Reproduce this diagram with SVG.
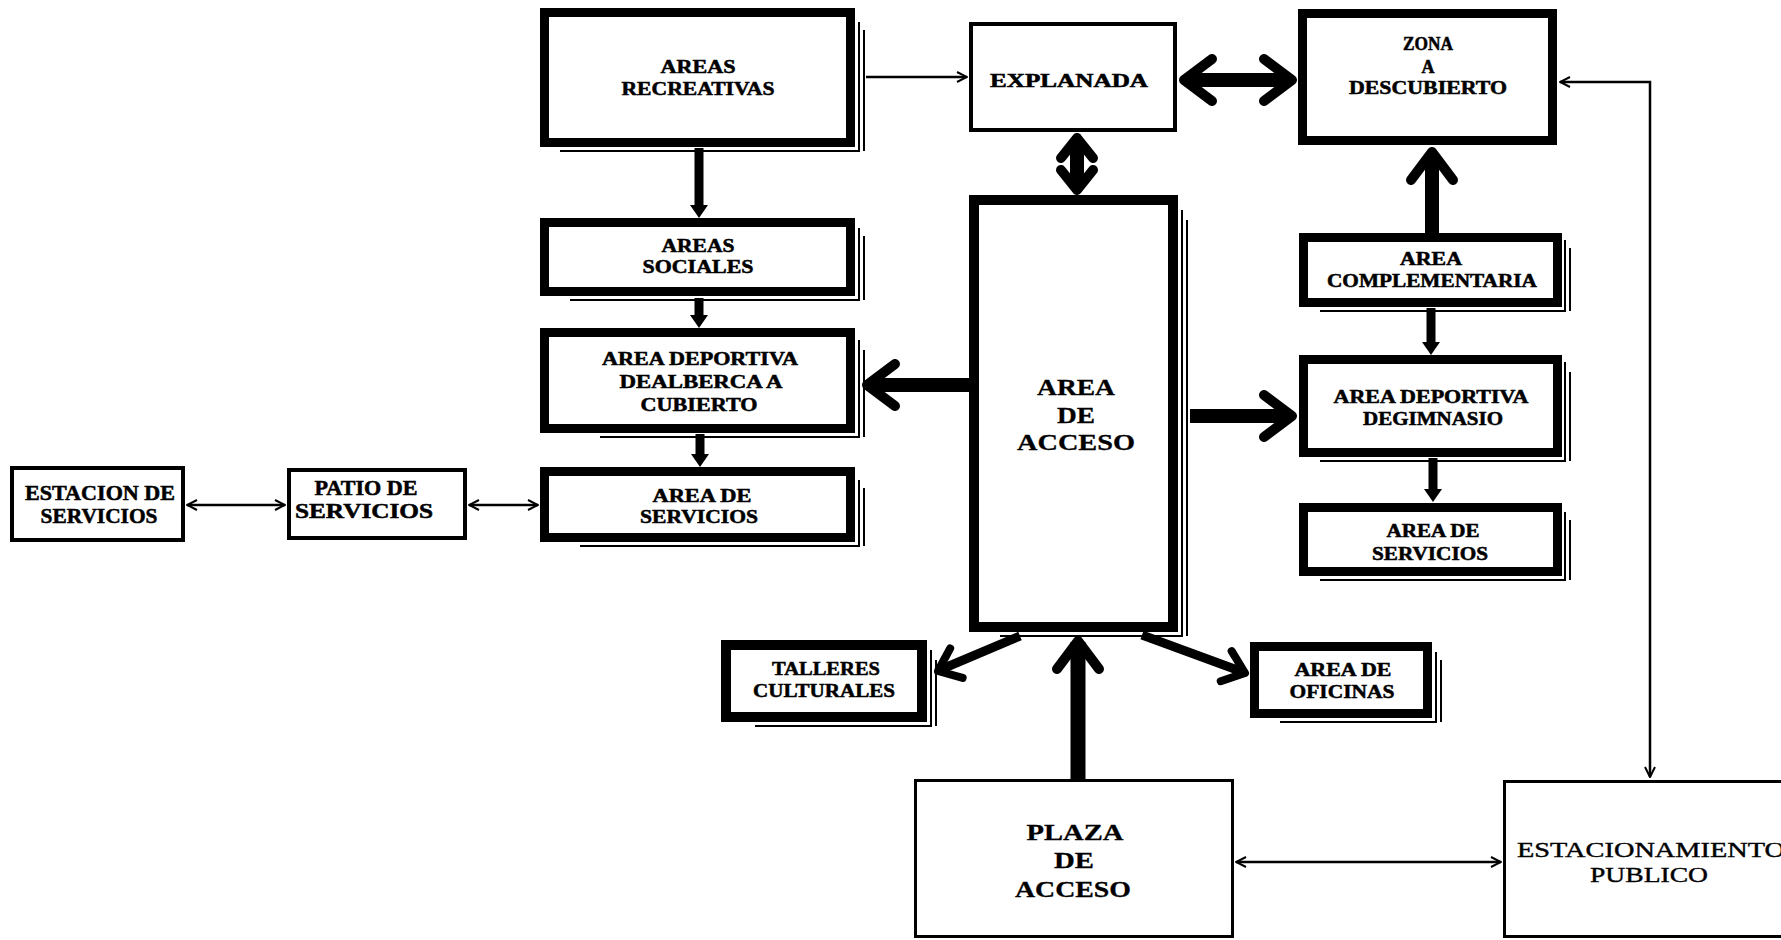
<svg xmlns="http://www.w3.org/2000/svg" width="1781" height="940" viewBox="0 0 1781 940">
  <style>
    .bk{fill:#fff;stroke:#000;stroke-width:9}
    .bn{fill:#fff;stroke:#000;stroke-width:4}
    .bh{fill:#fff;stroke:#000;stroke-width:3}
    .sh{fill:none;stroke:#000;stroke-width:2}
    .t{font-family:"Liberation Serif","Times New Roman",serif;font-weight:bold;font-size:18px;text-anchor:middle;fill:#000;stroke:#000;stroke-width:0.5}
    .tl{font-size:24px;stroke-width:0.3}
    .tr{font-weight:normal;font-size:22px;text-anchor:start;stroke-width:0.4}
    .thin{fill:none;stroke:#000;stroke-width:2.5}
    .med{fill:none;stroke:#000;stroke-width:9}
    .fat{fill:none;stroke:#000;stroke-width:14}
    .chev{fill:none;stroke:#000;stroke-width:10;stroke-linecap:round;stroke-linejoin:round}
    .tri{fill:#000}
  </style>
  <defs>
    <marker id="open" viewBox="0 0 12 12" refX="11" refY="6" markerWidth="12" markerHeight="12" orient="auto-start-reverse" markerUnits="userSpaceOnUse">
      <path d="M1,1 L11,6 L1,11" fill="none" stroke="#000" stroke-width="2"/>
    </marker>
    <path id="chev" d="M-28,-21 L0,0 L-28,21"/>
    <path id="chevS" d="M-20,-16 L0,0 L-20,16"/>
    <path id="tri" d="M0,0 L-13,-9 L-13,9 Z"/>
  </defs>

  <rect width="1781" height="940" fill="#fff"/>

  <!-- connectors -->
  <g id="connectors">
    <!-- thin lines with open heads -->
    <path class="thin" d="M866,77 H967" marker-end="url(#open)"/>
    <path class="thin" d="M187,505 H285" marker-start="url(#open)" marker-end="url(#open)"/>
    <path class="thin" d="M469,505 H538" marker-start="url(#open)" marker-end="url(#open)"/>
    <path class="thin" d="M1560,82 H1650 V777" marker-start="url(#open)" marker-end="url(#open)"/>
    <path class="thin" d="M1236,862 H1501" marker-start="url(#open)" marker-end="url(#open)"/>

    <!-- medium arrows, solid heads -->
    <path class="med" d="M699,148 V207"/>
    <use href="#tri" class="tri" transform="translate(699,218) rotate(90)"/>
    <path class="med" d="M699,298 V318"/>
    <use href="#tri" class="tri" transform="translate(699,328) rotate(90)"/>
    <path class="med" d="M700,434 V457"/>
    <use href="#tri" class="tri" transform="translate(700,467) rotate(90)"/>
    <path class="med" d="M1431,308 V345"/>
    <use href="#tri" class="tri" transform="translate(1431,355) rotate(90)"/>
    <path class="med" d="M1433,458 V492"/>
    <use href="#tri" class="tri" transform="translate(1433,502) rotate(90)"/>

    <!-- heavy arrows, chevron heads -->
    <path class="fat" d="M1188,80 H1288"/>
    <use href="#chev" class="chev" transform="translate(1184,80) rotate(180)"/>
    <use href="#chev" class="chev" transform="translate(1292,80)"/>

    <path class="fat" d="M1077,141 V187"/>
    <use href="#chevS" class="chev" transform="translate(1077,138) rotate(-90)"/>
    <use href="#chevS" class="chev" transform="translate(1077,190) rotate(90)"/>

    <path class="fat" d="M969,385 H872"/>
    <use href="#chev" class="chev" transform="translate(867,385) rotate(180)"/>

    <path class="fat" d="M1190,416 H1288"/>
    <use href="#chev" class="chev" transform="translate(1292,416)"/>

    <path class="fat" d="M1432,233 V158"/>
    <use href="#chev" class="chev" transform="translate(1432,152) rotate(-90)"/>

    <path class="fat" d="M1078,642 V779" style="stroke-width:15"/>
    <use href="#chev" class="chev" transform="translate(1078,641) rotate(-90)"/>

    <path class="med" d="M1020,636 L942,669"/>
    <use href="#chevS" class="chev" style="stroke-width:8" transform="translate(938,671) rotate(157)"/>

    <path class="med" d="M1142,635 L1240,671"/>
    <use href="#chevS" class="chev" style="stroke-width:8" transform="translate(1245,673) rotate(20)"/>
  </g>

  <!-- AREAS RECREATIVAS -->
  <g id="areas-recreativas">
    <path class="sh" d="M859,22 V151 H560 M864,30 V151"/>
    <rect class="bk" x="544.5" y="12.5" width="306" height="130"/>
    <text class="t" x="698" y="73" textLength="75" lengthAdjust="spacingAndGlyphs">AREAS</text>
    <text class="t" x="698" y="95" textLength="153" lengthAdjust="spacingAndGlyphs">RECREATIVAS</text>
  </g>

  <!-- EXPLANADA -->
  <g id="explanada">
    <rect class="bn" x="971" y="24" width="204" height="106"/>
    <text class="t" x="1069" y="87" textLength="158" lengthAdjust="spacingAndGlyphs">EXPLANADA</text>
  </g>

  <!-- ZONA A DESCUBIERTO -->
  <g id="zona-descubierto">
    <rect class="bk" x="1302.5" y="13.5" width="250" height="127"/>
    <text class="t" x="1428" y="50" textLength="50" lengthAdjust="spacingAndGlyphs">ZONA</text>
    <text class="t" x="1428" y="73">A</text>
    <text class="t" x="1428" y="94" textLength="158" lengthAdjust="spacingAndGlyphs">DESCUBIERTO</text>
  </g>

  <!-- AREAS SOCIALES -->
  <g id="areas-sociales">
    <path class="sh" d="M859,228 V300 H570 M864,236 V300"/>
    <rect class="bk" x="544.5" y="222.5" width="306" height="69"/>
    <text class="t" x="698" y="252" textLength="73" lengthAdjust="spacingAndGlyphs">AREAS</text>
    <text class="t" x="698" y="273" textLength="111" lengthAdjust="spacingAndGlyphs">SOCIALES</text>
  </g>

  <!-- AREA DEPORTIVA DE ALBERCA A CUBIERTO -->
  <g id="area-alberca">
    <path class="sh" d="M859,340 V437 H600 M864,350 V437"/>
    <rect class="bk" x="544.5" y="332.5" width="306" height="96"/>
    <text class="t" x="700" y="365" textLength="196" lengthAdjust="spacingAndGlyphs">AREA DEPORTIVA</text>
    <text class="t" x="701" y="388" textLength="163" lengthAdjust="spacingAndGlyphs">DEALBERCA A</text>
    <text class="t" x="699" y="411" textLength="117" lengthAdjust="spacingAndGlyphs">CUBIERTO</text>
  </g>

  <!-- AREA DE SERVICIOS (izquierda) -->
  <g id="area-servicios-izq">
    <path class="sh" d="M859,480 V546 H580 M864,488 V546"/>
    <rect class="bk" x="544.5" y="471.5" width="306" height="66"/>
    <text class="t" x="702" y="502" textLength="99" lengthAdjust="spacingAndGlyphs">AREA DE</text>
    <text class="t" x="699" y="523" textLength="118" lengthAdjust="spacingAndGlyphs">SERVICIOS</text>
  </g>

  <!-- ESTACION DE SERVICIOS -->
  <g id="estacion-servicios">
    <rect class="bn" x="12" y="468" width="171" height="72"/>
    <text class="t" x="100" y="500" style="font-size:20px" textLength="150" lengthAdjust="spacingAndGlyphs">ESTACION DE</text>
    <text class="t" x="99" y="523" style="font-size:20px" textLength="117" lengthAdjust="spacingAndGlyphs">SERVICIOS</text>
  </g>

  <!-- PATIO DE SERVICIOS -->
  <g id="patio-servicios">
    <rect class="bn" x="289" y="470" width="176" height="68"/>
    <text class="t" x="366" y="495" style="font-size:20px" textLength="103" lengthAdjust="spacingAndGlyphs">PATIO DE</text>
    <text class="t" x="364" y="518" style="font-size:20px" textLength="138" lengthAdjust="spacingAndGlyphs">SERVICIOS</text>
  </g>

  <!-- AREA DE ACCESO -->
  <g id="area-acceso">
    <path class="sh" d="M1182,210 V636 H1000 M1187,220 V636"/>
    <rect class="bk" x="974" y="200" width="199" height="427" style="stroke-width:10"/>
    <text class="t tl" x="1076" y="395" textLength="78" lengthAdjust="spacingAndGlyphs">AREA</text>
    <text class="t tl" x="1076" y="423" textLength="38" lengthAdjust="spacingAndGlyphs">DE</text>
    <text class="t tl" x="1076" y="450" textLength="118" lengthAdjust="spacingAndGlyphs">ACCESO</text>
  </g>

  <!-- AREA COMPLEMENTARIA -->
  <g id="area-complementaria">
    <path class="sh" d="M1565,240 V311 H1320 M1570,248 V311"/>
    <rect class="bk" x="1303.5" y="237.5" width="254" height="65"/>
    <text class="t" x="1431" y="265" textLength="62" lengthAdjust="spacingAndGlyphs">AREA</text>
    <text class="t" x="1432" y="287" textLength="210" lengthAdjust="spacingAndGlyphs">COMPLEMENTARIA</text>
  </g>

  <!-- AREA DEPORTIVA DE GIMNASIO -->
  <g id="area-gimnasio">
    <path class="sh" d="M1565,362 V461 H1320 M1570,372 V461"/>
    <rect class="bk" x="1303.5" y="359.5" width="254" height="93"/>
    <text class="t" x="1431" y="403" textLength="195" lengthAdjust="spacingAndGlyphs">AREA DEPORTIVA</text>
    <text class="t" x="1433" y="425" textLength="140" lengthAdjust="spacingAndGlyphs">DEGIMNASIO</text>
  </g>

  <!-- AREA DE SERVICIOS (derecha) -->
  <g id="area-servicios-der">
    <path class="sh" d="M1565,512 V580 H1320 M1570,520 V580"/>
    <rect class="bk" x="1303.5" y="507.5" width="254" height="64"/>
    <text class="t" x="1433" y="537" textLength="93" lengthAdjust="spacingAndGlyphs">AREA DE</text>
    <text class="t" x="1430" y="560" textLength="116" lengthAdjust="spacingAndGlyphs">SERVICIOS</text>
  </g>

  <!-- TALLERES CULTURALES -->
  <g id="talleres-culturales">
    <path class="sh" d="M931,650 V726 H755 M936,660 V726"/>
    <rect class="bk" x="726" y="645" width="196" height="72" style="stroke-width:10"/>
    <text class="t" x="826" y="675" style="font-size:19px" textLength="108" lengthAdjust="spacingAndGlyphs">TALLERES</text>
    <text class="t" x="824" y="697" style="font-size:19px" textLength="142" lengthAdjust="spacingAndGlyphs">CULTURALES</text>
  </g>

  <!-- AREA DE OFICINAS -->
  <g id="area-oficinas">
    <path class="sh" d="M1436,652 V722 H1280 M1441,660 V722"/>
    <rect class="bk" x="1254.5" y="646.5" width="173" height="67"/>
    <text class="t" x="1343" y="676" style="font-size:19px" textLength="97" lengthAdjust="spacingAndGlyphs">AREA DE</text>
    <text class="t" x="1342" y="698" style="font-size:19px" textLength="105" lengthAdjust="spacingAndGlyphs">OFICINAS</text>
  </g>

  <!-- PLAZA DE ACCESO -->
  <g id="plaza-acceso">
    <rect class="bh" x="915.5" y="780.5" width="317" height="156"/>
    <text class="t tl" x="1075" y="840" textLength="97" lengthAdjust="spacingAndGlyphs">PLAZA</text>
    <text class="t tl" x="1074" y="868" textLength="40" lengthAdjust="spacingAndGlyphs">DE</text>
    <text class="t tl" x="1073" y="897" textLength="116" lengthAdjust="spacingAndGlyphs">ACCESO</text>
  </g>

  <!-- ESTACIONAMIENTO PUBLICO -->
  <g id="estacionamiento-publico">
    <rect class="bh" x="1504.5" y="781.5" width="300" height="155"/>
    <text class="t tr" x="1517" y="857" textLength="268" lengthAdjust="spacingAndGlyphs">ESTACIONAMIENTO</text>
    <text class="t tr" x="1590" y="882" textLength="118" lengthAdjust="spacingAndGlyphs">PUBLICO</text>
  </g>
</svg>
